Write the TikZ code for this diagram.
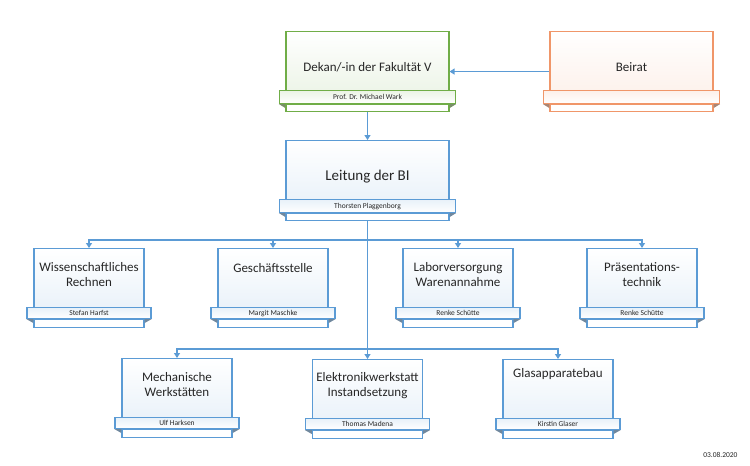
\documentclass[tikz,border=0pt]{standalone}
\usepackage{fontspec}
\setmainfont{Carlito}
\usetikzlibrary{arrows.meta,positioning,calc}

\definecolor{orgblue}{RGB}{91,155,213}
\definecolor{orggreen}{RGB}{112,173,71}
\definecolor{orgorange}{RGB}{240,150,105}

\begin{document}
\begin{tikzpicture}
  [x=1pt, y=-1pt,
   >={Triangle[length=5pt,width=6pt]},
   every node/.style={text=black!85},
   % y zeigt nach unten, daher Verlauf vertauscht
   orgbox/.style={rectangle,
                  draw=#1, line width=1.1pt,
                  top color=white, bottom color=#1!15!white,
                  inner sep=0pt},
   bigbox/.style={orgbox=#1,
                  minimum width=163pt, minimum height=72pt,
                  font=\fontsize{13}{16}\selectfont},
   smallbox/.style={orgbox=#1,
                  minimum width=110pt, minimum height=70pt},
   banner/.style={rectangle,
                  draw=#1, line width=1.1pt,
                  top color=#1!14!white, bottom color=white,
                  inner sep=0pt, font=\fontsize{7.5}{9}\selectfont},
   tab/.style={rectangle,
               draw=#1, line width=1.1pt, fill=white,
               inner sep=0pt},
   fold/.style={fill=#1!55!black!70},
   title/.style={inner sep=0pt, align=center,
                 font=\fontsize{13}{15.5}\selectfont},
   link/.style={draw=orgblue, line width=1.5pt}]
  \useasboundingbox (0,0) rectangle (750,466);

  % oberste Ebene
  \node[bigbox=orggreen, anchor=north] (dekan)   at (367.5,31)  {Dekan/-in der Fakultät V};
  \node[bigbox=orgorange, anchor=north] (beirat) at (631.5,31)  {Beirat};
  \node[bigbox=orgblue, anchor=north,
        font=\fontsize{15}{18}\selectfont] (leitung) at (367.5,140) {Leitung der BI};

  \foreach \name/\col/\person in {dekan/orggreen/{Prof. Dr. Michael Wark},
                                  beirat/orgorange/{},
                                  leitung/orgblue/{Thorsten Plaggenborg}}
  {
    \node[tab=\col, minimum width=163pt, minimum height=7pt,
          below=0pt of \name.south] (\name-tab) {};
    \fill[fold=\col] ($(\name.south west)+(-6.5,0)$) -- (\name.south west) -- ++(0,4) -- cycle;
    \fill[fold=\col] ($(\name.south east)+(6.5,0)$) -- (\name.south east) -- ++(0,4) -- cycle;
    \node[banner=\col, minimum width=176pt, minimum height=13pt,
          above=0pt of \name.south] (\name-n) {\person};
  }

  % Arbeitsbereiche
  \foreach \name/\x/\y/\dy/\title/\person in
    {wr/89/248/14/{Wissenschaftliches\\Rechnen}/{Stefan Harfst},
     gs/273/248/15/{Geschäftsstelle}/{Margit Maschke},
     lv/458/248/14/{Laborversorgung\\Warenannahme}/{Renke Schütte},
     pt/642/248/14/{Präsentations-\\technik}/{Renke Schütte},
     mw/177/358/14/{Mechanische\\Werkstätten}/{Ulf Harksen},
     ew/367.5/359/13/{Elektronikwerkstatt\\Instandsetzung}/{Thomas Madena},
     gb/558/359/9/{Glasapparatebau}/{Kirstin Glaser}}
  {
    \node[smallbox=orgblue, anchor=north] (\name) at (\x,\y) {};
    \node[tab=orgblue, minimum width=110pt, minimum height=8pt,
          below=0pt of \name.south] (\name-tab) {};
    \fill[fold=orgblue] ($(\name.south west)+(-7,0)$) -- (\name.south west) -- ++(0,4) -- cycle;
    \fill[fold=orgblue] ($(\name.south east)+(7,0)$) -- (\name.south east) -- ++(0,4) -- cycle;
    \node[banner=orgblue, minimum width=124pt, minimum height=11pt,
          above=0pt of \name.south] (\name-n) {\person};
    \node[title, below=\dy pt of \name.north] (\name-t) {\title};
  }

  % Verbindungen
  \coordinate[below=19pt of leitung-tab.south] (bus1);
  \coordinate (bus2) at ($(ew.north)+(0,-10)$);
  \draw[link,->] ($(beirat.west)+(0,4)$) -- ($(dekan.east)+(0,4)$);
  \draw[link,->] (dekan-tab) -- (leitung);
  \draw[link,->] (leitung-tab) -- (ew);
  \foreach \n in {wr,gs,lv,pt}
    \draw[link,->] (bus1) -| (\n);
  \foreach \n in {mw,gb}
    \draw[link,->] (bus2) -| (\n);

  \node[anchor=east, font=\fontsize{7.5}{9}\selectfont] (datum) at (741,455) {03.08.2020};
\end{tikzpicture}
\end{document}
